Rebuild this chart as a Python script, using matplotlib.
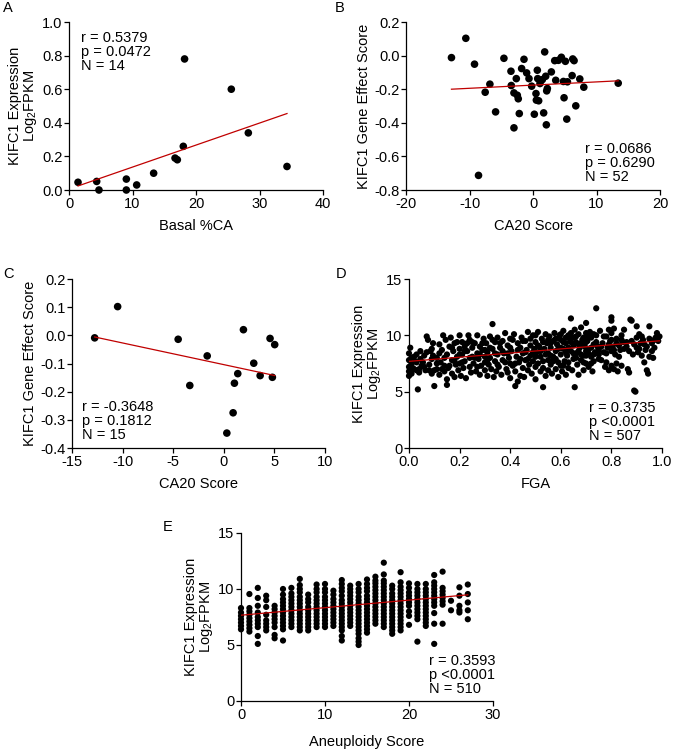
import numpy as np
import matplotlib
matplotlib.use("Agg")
import matplotlib.pyplot as plt

plt.rcParams['font.family'] = ['Liberation Sans', 'DejaVu Sans']
plt.rcParams['mathtext.fontset'] = 'custom'
plt.rcParams['mathtext.rm'] = 'Liberation Sans'
plt.rcParams['mathtext.default'] = 'regular'
plt.rcParams['axes.unicode_minus'] = False

# ---------------- Panel A ----------------
a_basal_ca = [1.42, 4.36, 4.72, 9.03, 9.03, 10.66, 13.33, 16.7, 17.06, 18.0, 18.2, 25.56, 28.24, 34.33]
a_kifc1 = [0.046, 0.051, 0.0, 0.065, 0.0, 0.03, 0.10, 0.19, 0.18, 0.26, 0.78, 0.60, 0.34, 0.14]
a_fit = (0.0054, 0.0131)   # intercept, slope
a_stats = "r = 0.5379\np = 0.0472\nN = 14"

# ---------------- Panel B ----------------
b_ca20 = [-12.84, -10.58, -9.21, -8.58, -7.53, -6.79, -5.89, -4.58, -3.47, -3.42, -3.0, -3.0,
          -2.63, -2.47, -2.32, -2.16, -1.79, -1.42, -1.0, -0.63, -0.21, 0.21, 0.47, 0.53, 0.68,
          0.74, 0.89, 1.1, 1.47, 1.68, 1.84, 2.0, 2.1, 2.16, 2.26, 2.89, 3.42, 3.58, 4.0, 4.47,
          4.79, 4.89, 5.1, 5.32, 5.42, 6.16, 6.26, 6.47, 6.74, 7.37, 8.0, 13.42]
b_effect = [-0.012, 0.103, -0.051, -0.713, -0.218, -0.170, -0.335, -0.016, -0.093, -0.178, -0.222, -0.430,
            -0.137, -0.236, -0.257, -0.345, -0.077, -0.022, -0.103, -0.137, -0.182, -0.349, -0.226, -0.265, -0.087,
            -0.137, -0.269, -0.166, -0.143, -0.341, 0.022, -0.123, -0.412, -0.210, -0.196, -0.097, -0.030, -0.147, -0.028, -0.010,
            -0.154, -0.251, -0.034, -0.378, -0.156, -0.119, -0.020, -0.030, -0.299, -0.139, -0.188, -0.164]
b_fit = (-0.1756, 0.0019)
b_stats = "r = 0.0686\np = 0.6290\nN = 52"

# ---------------- Panel C ----------------
c_ca20 = [-12.76, -10.49, -4.51, -3.36, -1.64, 0.30, 0.92, 1.05, 1.38, 1.94, 2.96, 3.59, 4.57, 4.80, 5.03]
c_effect = [-0.009, 0.102, -0.014, -0.178, -0.073, -0.347, -0.275, -0.170, -0.136, 0.020, -0.099, -0.143, -0.011, -0.149, -0.033]
c_fit = (-0.104, -0.00769)
c_stats = "r = -0.3648\np = 0.1812\nN = 15"

# ---------------- Panel D ----------------
d_fga = [0.0, 0.0, 0.0, 0.0, 0.0, 0.005, 0.01, 0.01, 0.02, 0.02, 0.03, 0.03, 0.035, 0.04, 0.045, 0.05,
         0.055, 0.06, 0.065, 0.07, 0.075, 0.08, 0.085, 0.09, 0.09, 0.095, 0.10, 0.10, 0.095,
         0.11, 0.11, 0.12, 0.12, 0.125, 0.13, 0.135, 0.14, 0.14, 0.145, 0.15, 0.15, 0.15,
         0.155, 0.16, 0.165, 0.17, 0.17, 0.175, 0.18, 0.18, 0.185, 0.19, 0.195, 0.2, 0.2, 0.2,
         0.205, 0.21, 0.21, 0.215, 0.22, 0.22, 0.225, 0.23, 0.235, 0.24, 0.24, 0.245, 0.25, 0.25,
         0.255, 0.26, 0.265, 0.27, 0.27, 0.275, 0.28, 0.28, 0.285, 0.29, 0.295, 0.3, 0.3, 0.3,
         0.305, 0.31, 0.31, 0.315, 0.32, 0.32, 0.325, 0.33, 0.33, 0.335, 0.34, 0.34, 0.345, 0.35, 0.35,
         0.355, 0.36, 0.365, 0.37, 0.37, 0.375, 0.38, 0.385, 0.39, 0.39, 0.395, 0.4, 0.4, 0.4,
         0.405, 0.41, 0.415, 0.42, 0.42, 0.425, 0.43, 0.43, 0.435, 0.44, 0.44, 0.445, 0.45, 0.45,
         0.455, 0.46, 0.46, 0.465, 0.47, 0.47, 0.475, 0.48, 0.48, 0.485, 0.49, 0.49, 0.495, 0.5, 0.5, 0.5,
         0.505, 0.51, 0.51, 0.515, 0.52, 0.52, 0.525, 0.53, 0.53, 0.535, 0.54, 0.54, 0.545, 0.55, 0.55, 0.55,
         0.555, 0.56, 0.56, 0.565, 0.57, 0.57, 0.575, 0.58, 0.58, 0.585, 0.59, 0.59, 0.595, 0.6, 0.6, 0.6,
         0.605, 0.61, 0.61, 0.615, 0.62, 0.62, 0.625, 0.63, 0.63, 0.635, 0.64, 0.64, 0.645, 0.65, 0.65, 0.655, 0.655,
         0.66, 0.66, 0.665, 0.67, 0.67, 0.675, 0.68, 0.68, 0.685, 0.69, 0.69, 0.695, 0.7, 0.7, 0.7, 0.7,
         0.705, 0.71, 0.71, 0.715, 0.72, 0.72, 0.725, 0.73, 0.73, 0.735, 0.74, 0.74, 0.745, 0.75, 0.75,
         0.755, 0.76, 0.765, 0.77, 0.775, 0.78, 0.78, 0.785, 0.79, 0.79, 0.795, 0.8, 0.8, 0.8, 0.8, 0.8,
         0.805, 0.81, 0.81, 0.815, 0.82, 0.82, 0.825, 0.83, 0.835, 0.84, 0.84, 0.845, 0.85, 0.85,
         0.86, 0.865, 0.87, 0.875, 0.88, 0.88, 0.885, 0.89, 0.895, 0.9, 0.9, 0.9,
         0.905, 0.91, 0.915, 0.92, 0.925, 0.93, 0.935, 0.94, 0.94, 0.945, 0.95, 0.95, 0.95,
         0.96, 0.965, 0.97, 0.975, 0.98, 0.985,
         0.01, 0.015, 0.025, 0.03, 0.04, 0.045, 0.06, 0.07, 0.08, 0.09, 0.11, 0.12, 0.13, 0.14,
         0.16, 0.17, 0.18, 0.19, 0.2, 0.21, 0.22, 0.23, 0.24, 0.25, 0.26, 0.27, 0.28, 0.29, 0.3,
         0.31, 0.32, 0.33, 0.34, 0.35, 0.36, 0.37, 0.38, 0.39, 0.4, 0.41, 0.42, 0.43, 0.44, 0.45,
         0.46, 0.47, 0.48, 0.49, 0.5, 0.5, 0.51, 0.52, 0.53, 0.53, 0.54, 0.55, 0.56, 0.56, 0.57,
         0.58, 0.58, 0.59, 0.6, 0.6, 0.61, 0.61, 0.62, 0.62, 0.63, 0.63, 0.64, 0.64, 0.65, 0.65,
         0.66, 0.66, 0.67, 0.67, 0.68, 0.68, 0.69, 0.69, 0.7, 0.7, 0.71, 0.71, 0.72, 0.72, 0.73,
         0.73, 0.74, 0.75, 0.76, 0.77, 0.78, 0.79, 0.8, 0.81, 0.82, 0.83, 0.84, 0.86, 0.87, 0.89,
         0.91, 0.92, 0.93, 0.96, 0.97, 0.99]
d_expr = [6.4, 6.8, 7.2, 7.8, 8.4, 8.9, 7.5, 6.6, 7.0, 8.1, 6.9, 7.6, 5.2, 6.7, 8.6, 7.3,
          7.6, 8.2, 6.9, 9.9, 9.6, 7.4, 8.6, 6.6, 7.9, 9.3, 5.5, 6.9, 8.2,
          7.0, 8.0, 9.2, 6.5, 7.6, 8.7, 10.0, 6.8, 7.3, 9.6, 5.6, 6.1, 8.3,
          7.1, 9.0, 9.8, 6.6, 7.8, 8.6, 6.3, 9.3, 7.4, 8.1, 6.9, 8.8, 7.5, 10.0,
          6.4, 8.3, 9.4, 7.1, 7.7, 9.0, 6.2, 8.6, 10.0, 7.2, 9.6, 6.7, 8.1, 8.9,
          7.5, 9.3, 6.8, 8.4, 10.0, 7.9, 6.5, 9.0, 7.3, 8.7, 9.7, 6.9, 8.1, 7.6,
          9.3, 6.4, 8.5, 7.4, 9.9, 8.0, 7.0, 11.0, 8.8, 6.3, 7.7, 9.4, 6.8, 8.3, 9.8,
          7.2, 8.9, 6.5, 9.5, 7.8, 8.4, 10.2, 7.0, 9.1, 6.7, 8.0, 7.5, 9.7, 6.2,
          8.6, 7.3, 10.1, 5.5, 6.8, 8.1, 5.9, 9.3, 7.6, 6.4, 8.9, 9.8, 7.1, 8.4,
          6.3, 9.5, 7.8, 8.7, 10.3, 6.9, 7.4, 9.1, 8.2, 6.6, 10.0, 7.7, 8.8, 9.4, 7.2, 6.1,
          8.5, 10.3, 7.5, 9.0, 6.8, 8.1, 9.7, 5.4, 7.1, 8.8, 10.1, 6.4, 9.3, 7.8, 8.4, 6.9,
          9.9, 7.4, 8.9, 6.6, 9.5, 8.1, 10.2, 7.0, 8.6, 9.2, 7.6, 6.3, 10.0, 8.3, 9.6, 7.3,
          6.8, 10.4, 8.8, 7.7, 9.3, 6.5, 8.2, 10.0, 7.1, 9.7, 11.5, 8.6, 6.9, 9.1, 7.9, 5.4, 10.5,
          8.4, 9.4, 7.4, 10.1, 6.5, 8.9, 10.7, 7.8, 9.6, 8.2, 6.9, 9.0, 10.2, 7.5, 8.6, 11.1,
          9.5, 7.2, 8.8, 10.3, 8.1, 9.8, 6.8, 9.2, 7.7, 8.5, 12.4, 10.0, 9.0, 7.9, 8.7,
          10.4, 7.8, 9.3, 8.5, 7.2, 9.9, 7.6, 8.9, 10.5, 6.9, 9.5, 11.6, 11.3, 7.3, 8.6, 10.2,
          9.0, 7.0, 10.6, 8.3, 9.7, 7.5, 6.8, 9.1, 8.7, 10.0, 7.3, 9.4, 8.8, 10.5,
          9.0, 7.0, 6.7, 11.4, 11.3, 9.5, 8.3, 5.1, 5.0, 8.9, 10.8, 9.8,
          8.5, 10.1, 9.3, 8.2, 9.6, 7.6, 8.7, 6.9, 9.0, 6.6, 10.8, 8.1, 9.7,
          9.3, 8.0, 8.9, 9.8, 10.2, 9.5,
          8.0, 7.1, 7.7, 8.3, 7.0, 7.9, 7.2, 8.5, 6.9, 8.8, 7.5, 8.4, 7.0, 8.0,
          7.3, 8.9, 7.7, 9.4, 8.3, 7.6, 8.6, 9.3, 8.0, 9.4, 8.0, 7.2, 8.3, 9.3, 8.7,
          7.8, 8.9, 9.6, 8.4, 7.4, 9.3, 8.6, 7.6, 8.4, 8.9, 9.6, 7.5, 8.7, 7.9, 9.5,
          8.5, 7.9, 9.7, 8.5, 8.1, 10.0, 9.1, 8.6, 9.4, 7.7, 8.3, 9.6, 8.2, 9.3, 7.7,
          9.7, 7.9, 8.8, 8.9, 10.1, 9.4, 7.3, 8.5, 9.8, 8.9, 7.6, 9.4, 10.2, 8.4, 9.8,
          8.0, 9.9, 9.2, 8.6, 9.3, 8.3, 9.8, 7.6, 9.4, 8.2, 9.9, 8.4, 8.9, 7.5, 8.3,
          10.1, 9.4, 8.3, 9.0, 9.9, 8.4, 9.2, 9.6, 8.7, 9.3, 8.1, 9.6, 9.4, 8.6, 9.2,
          8.8, 9.9, 9.2, 8.6, 9.6, 9.9]
d_fit = (7.69, 1.84)
d_stats = "r = 0.3735\np <0.0001\nN = 507"

# ---------------- Panel E ----------------
e_scores = list(range(28))
e_expr = [
    [6.4, 6.7, 7.0, 7.3, 7.6, 7.9, 8.3],
    [6.2, 6.5, 6.8, 7.1, 7.4, 7.7, 8.0, 8.3, 9.55],
    [5.1, 5.8, 6.6, 6.9, 7.2, 7.5, 7.9, 8.5, 9.2, 10.1],
    [6.3, 6.6, 6.9, 7.2, 7.7, 8.4, 9.0, 9.4],
    [5.6, 5.9, 6.6, 7.0, 7.3, 7.6, 7.9, 8.2, 8.5],
    [5.4, 6.4, 6.7, 7.0, 7.3, 7.6, 7.9, 8.2, 8.5, 8.8, 9.1, 9.5, 10.0],
    [6.6, 6.9, 7.2, 7.5, 7.8, 8.1, 8.4, 8.7, 9.0, 9.3, 9.6, 10.1],
    [6.3, 6.6, 6.9, 7.2, 7.5, 7.8, 8.1, 8.4, 8.7, 9.0, 9.3, 9.7, 10.0, 10.35, 10.9],
    [6.3, 6.6, 6.9, 7.2, 7.5, 7.8, 8.1, 8.4, 8.8, 9.1, 9.5],
    [6.6, 6.9, 7.2, 7.5, 7.8, 8.1, 8.4, 8.7, 9.0, 9.3, 9.7, 10.0, 10.4],
    [6.6, 6.9, 7.2, 7.5, 7.8, 8.1, 8.4, 8.7, 9.0, 9.3, 9.7, 10.0, 10.45],
    [6.7, 7.0, 7.3, 7.6, 7.9, 8.2, 8.5, 8.8, 9.1, 9.5, 9.85],
    [5.4, 5.8, 6.3, 6.6, 6.9, 7.2, 7.5, 7.8, 8.1, 8.4, 8.7, 9.0, 9.4, 9.8, 10.1, 10.45, 10.8],
    [6.7, 7.0, 7.3, 7.6, 7.9, 8.2, 8.5, 8.8, 9.1, 9.4, 9.7, 10.0, 10.3],
    [5.0, 5.3, 5.6, 6.0, 6.3, 6.6, 6.9, 7.2, 7.5, 7.8, 8.1, 8.4, 8.7, 9.0, 9.3, 9.7, 10.0, 10.45],
    [6.1, 6.4, 6.7, 7.0, 7.3, 7.6, 7.9, 8.2, 8.5, 8.8, 9.1, 9.4, 9.8, 10.1, 10.45, 10.85],
    [6.9, 7.2, 7.5, 7.8, 8.1, 8.4, 8.7, 9.0, 9.3, 9.6, 9.9, 10.2, 10.5, 10.75, 11.1],
    [6.6, 6.9, 7.2, 7.5, 7.8, 8.1, 8.4, 8.7, 9.0, 9.3, 9.6, 9.9, 10.2, 10.5, 10.75, 11.3, 12.35],
    [6.0, 6.3, 6.6, 6.9, 7.2, 7.5, 7.8, 8.1, 8.4, 8.7, 9.0, 9.3, 9.6, 10.0, 10.3],
    [6.3, 6.6, 6.9, 7.2, 7.5, 7.8, 8.1, 8.4, 8.7, 9.0, 9.3, 9.6, 9.9, 10.2, 10.6, 11.5],
    [6.8, 7.6, 8.0, 8.5, 8.8, 9.1, 9.4, 9.7, 10.1, 10.5],
    [5.3, 7.3, 7.6, 7.9, 8.2, 8.5, 8.8, 9.1, 9.4, 9.7, 10.0, 10.45],
    [6.7, 7.0, 7.3, 7.6, 7.9, 8.2, 8.5, 8.8, 9.1, 9.4, 9.7, 10.0, 10.45],
    [5.1, 6.9, 7.85, 8.5, 8.8, 9.1, 9.4, 9.7, 10.0, 10.3, 10.6, 11.25],
    [6.9, 8.6, 8.9, 9.2, 9.5, 9.8, 10.1, 11.55],
    [8.1, 8.95],
    [7.9, 8.1, 8.5, 9.4, 10.15],
    [7.3, 8.1, 8.8, 9.55, 10.4],
]
e_fit = (7.66, 0.0674)
e_stats = "r = 0.3593\np <0.0001\nN = 510"

# ---------------- drawing ----------------
FS = 10.5
W, H = 674, 750
fig = plt.figure(figsize=(W / 100, H / 100), dpi=100)


def make_ax(l, t, r, b):
    return fig.add_axes([l / W, 1 - b / H, (r - l) / W, (b - t) / H])


def style(ax, xlim, ylim, xticks, yticks, xfmt, yfmt, xlabel, ylabel):
    ax.set_xlim(*xlim)
    ax.set_ylim(*ylim)
    ax.set_xticks(xticks)
    ax.set_yticks(yticks)
    ax.set_xticklabels([xfmt.format(v) for v in xticks])
    ax.set_yticklabels([yfmt.format(v) for v in yticks])
    for s in ['top', 'right']:
        ax.spines[s].set_visible(False)
    for s in ['left', 'bottom']:
        ax.spines[s].set_linewidth(0.9)
    ax.tick_params(direction='out', length=3.5, width=0.9, labelsize=FS, pad=1.2)
    ax.set_xlabel(xlabel, fontsize=FS, labelpad=6)
    ax.set_ylabel(ylabel, fontsize=FS, labelpad=2, linespacing=1.0)


def draw(ax, x, y, fit, s):
    x = np.asarray(x, float)
    y = np.asarray(y, float)
    ax.scatter(x, y, s=s, c='black', edgecolors='none', clip_on=False, zorder=3)
    xs = np.array([x.min(), x.max()])
    ax.plot(xs, fit[0] + fit[1] * xs, color='#c00000', lw=0.9, zorder=4)


expr_label = 'KIFC1 Expression\nLog$_2$FPKM'
gene_label = 'KIFC1 Gene Effect Score'

# A
axA = make_ax(69, 22, 323, 190)
draw(axA, a_basal_ca, a_kifc1, a_fit, 30)
style(axA, (0, 40), (0, 1.0), [0, 10, 20, 30, 40], [0, 0.2, 0.4, 0.6, 0.8, 1.0],
      '{:g}', '{:.1f}', 'Basal %CA', expr_label)
axA.text(0.047, 0.945, a_stats, transform=axA.transAxes, fontsize=FS, va='top', ha='left', linespacing=1.0)

# B
axB = make_ax(406, 22, 660, 190)
draw(axB, b_ca20, b_effect, b_fit, 30)
style(axB, (-20, 20), (-0.8, 0.2), [-20, -10, 0, 10, 20], [0.2, 0.0, -0.2, -0.4, -0.6, -0.8],
      '{:g}', '{:.1f}', 'CA20 Score', gene_label)
axB.text(0.705, 0.035, b_stats, transform=axB.transAxes, fontsize=FS, va='bottom', ha='left', linespacing=1.0)

# C
axC = make_ax(72, 279, 325, 448)
draw(axC, c_ca20, c_effect, c_fit, 30)
style(axC, (-15, 10), (-0.4, 0.2), [-15, -10, -5, 0, 5, 10], [0.2, 0.1, 0.0, -0.1, -0.2, -0.3, -0.4],
      '{:g}', '{:.1f}', 'CA20 Score', gene_label)
axC.text(0.04, 0.035, c_stats, transform=axC.transAxes, fontsize=FS, va='bottom', ha='left', linespacing=1.0)

# D
axD = make_ax(409, 279, 662, 448)
draw(axD, d_fga, d_expr, d_fit, 20)
style(axD, (0, 1.0), (0, 15), [0, 0.2, 0.4, 0.6, 0.8, 1.0], [0, 5, 10, 15],
      '{:.1f}', '{:g}', 'FGA', expr_label)
axD.text(0.71, 0.03, d_stats, transform=axD.transAxes, fontsize=FS, va='bottom', ha='left', linespacing=1.0)

# E
e_x = np.concatenate([[sc] * len(v) for sc, v in zip(e_scores, e_expr)])
e_y = np.concatenate(e_expr)
axE = make_ax(241, 533, 493, 701)
draw(axE, e_x, e_y, e_fit, 20)
style(axE, (0, 30), (0, 15), [0, 10, 20, 30], [0, 5, 10, 15],
      '{:g}', '{:g}', 'Aneuploidy Score', expr_label)
axE.xaxis.labelpad = 10
axE.text(0.745, 0.03, e_stats, transform=axE.transAxes, fontsize=FS, va='bottom', ha='left', linespacing=1.0)

# panel letters
for letter, px, py in [('A', 3, 8), ('B', 335, 8), ('C', 3, 274), ('D', 336, 274), ('E', 163, 527)]:
    fig.text(px / W, 1 - py / H, letter, fontsize=FS, ha='left', va='center')

fig.savefig('out.png', dpi=100)
